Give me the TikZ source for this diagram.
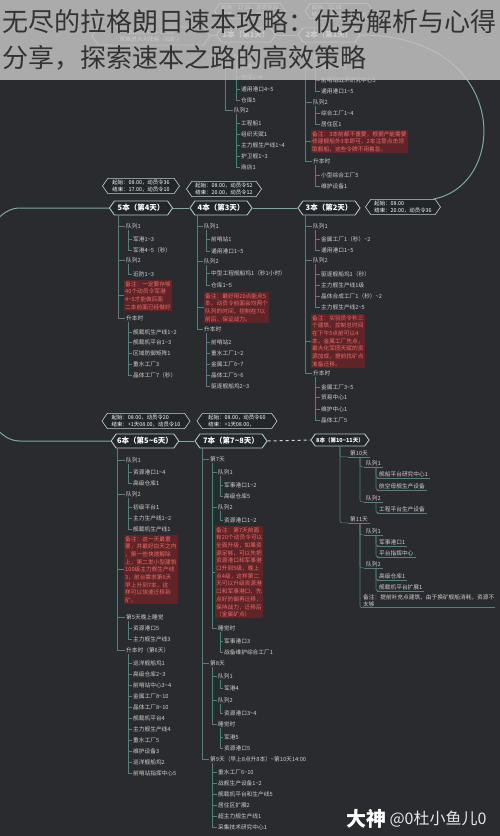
\documentclass[tikz,border=0pt]{standalone}
\usepackage{fontspec}
\setmainfont{Noto Sans CJK SC}
\usetikzlibrary{shapes.symbols, calc, positioning}
\definecolor{bgdark}{HTML}{2A2B2F}
\definecolor{treeline}{HTML}{55807E}
\definecolor{spine}{HTML}{7FA7A5}
\definecolor{hexfill}{HTML}{222629}
\definecolor{hexedge}{HTML}{B8C8C6}
\definecolor{itemtext}{HTML}{D0D0D0}
\definecolor{notefill}{HTML}{5E2428}
\definecolor{notetext}{HTML}{EE6B67}
\definecolor{startedge}{HTML}{C49A6C}
\definecolor{veil}{HTML}{C2C2C2}
\definecolor{titletext}{HTML}{333333}
\newcommand{\tld}{\char"7E\relax}

\begin{document}
\begin{tikzpicture}[x=1pt, y=-1pt,
  hexa/.style={signal, signal to=east and west, signal pointer angle=110, draw=hexedge,
    line width=0.9pt, fill=hexfill, text=white, font=\fontsize{7.5}{9}\selectfont\bfseries,
    inner sep=1pt, minimum height=14pt},
  infobox/.style={signal, signal to=east and west, signal pointer angle=110, draw=hexedge!80,
    line width=0.6pt, fill=hexfill, text=white, font=\fontsize{5.4}{7}\selectfont,
    align=left, inner sep=1.5pt},
  item/.style={anchor=west, text=itemtext, font=\fontsize{5.7}{7}\selectfont, inner sep=1pt},
  note/.style={anchor=north west, fill=notefill, text=notetext,
    font=\fontsize{5.7}{7.7}\selectfont, align=left, inner sep=1pt},
  tree/.style={draw=treeline, line width=0.6pt},
  link/.style={draw=spine, line width=1pt}]
\useasboundingbox (0,0) rectangle (500,836);
\fill[bgdark] (0,0) rectangle (500,836);

% Main nodes
\node[hexa, draw=startedge, font=\fontsize{5.7}{7}\selectfont, align=center, minimum width=118pt, minimum height=18pt] (start) at (151,36) {2022-09-29-17:00\\家族进入大陆座（红矿）};
\node[hexa, minimum width=59pt] (b1) at (246,35) {1本（第1天）};
\node[hexa, minimum width=62pt] (b2) at (329,35) {2本（第1天）};
\node[hexa, minimum width=62pt] (b3) at (329,208) {3本（第2天）};
\node[hexa, minimum width=62pt] (b4) at (221,208) {4本（第3天）};
\node[hexa, minimum width=63pt] (b5) at (141,208) {5本（第4天）};
\node[hexa, minimum width=66pt] (b6) at (145,441) {6本（第5\tld6天）};
\node[hexa, minimum width=72pt] (b7) at (231,441) {7本（第7\tld8天）};
\node[hexa, minimum width=55pt, minimum height=12pt, font=\fontsize{5.5}{7}\selectfont\bfseries] (b8) at (340,440) {8本（第10\tld11天）};

% Info boxes
\node[infobox, minimum width=66pt] (info1) at (250,11) {起始：17.00，动员令36\\结束：20.00，动员令12};
\node[infobox, minimum width=62pt] (info2) at (339,11) {起始：20.00\\结束：24.00，动员令0};
\node[infobox, minimum width=75pt] (info3) at (403,207) {起始：08.00\\结束：20.00，动员令36};
\node[infobox, minimum width=75pt] (info4) at (224,189) {起始：08.00，动员令52\\结束：20.00，动员令12};
\node[infobox, minimum width=77pt] (info5) at (141,186) {起始：08.00，动员令36\\结束：17.00，动员令10};
\node[infobox, minimum width=88pt] (info6) at (146,421) {起始：08.00，动员令20\\结束：+1天08.00，动员令10};
\node[infobox, minimum width=80pt] (info7) at (237,421) {起始：08.00，动员令60\\结束：+1天08.00，};

% Backbone
\draw[link] (start.east) -- (b1.west);
\draw[link] (b1.east) -- (b2.west);
\draw[link] (b2.east) .. controls (510,35) and (510,185) .. ([xshift=30pt]info3.north);
\draw[link] (b3.west) -- (b4.east);
\draw[link] (b4.west) -- (b5.east);
\draw[link] (b5.west) -- (20,208) .. controls (-45,208) and (-45,441) .. (20,441) -- (b6.west);
\draw[link] (b6.east) -- (b7.west);
\draw[link, dashed, draw=hexedge!70] (b7.east) -- (b8.west);

% 1本
\foreach \n/\x/\y/\t in {A1/233/57/队列1, A11/240/66/前哨站1, A12/240/77/仓库1\tld4,
  A13/240/89/通用港口4\tld5, A14/240/100/仓库5, A2/233/110/队列2, A21/240/123/工程船1,
  A22/240/134/组织天赋1, A23/240/145/主力舰生产线1\tld4, A24/240/156/护卫舰1\tld3, A25/240/167/商店1}
  \node[item] (\n) at (\x,\y) {\t};

% 2本
\foreach \n/\x/\y/\t in {B1/312/57/队列1, B11/320/67/综合工厂1（秒）, B12/320/80/前哨站战术研究中心5,
  B13/320/91/通用港口1\tld5, B2/312/102/队列2, B21/320/113/综合工厂1\tld4, B22/320/124/居住区1,
  B4/312/161/升本时, B41/320/175/小型综合工厂5, B42/320/186/维护设备1}
  \node[item] (\n) at (\x,\y) {\t};
\node[note] (B3) at (311,130) {备注：3本前都不重要，根据产能需要\\修建舰船外3本即可，2本注意点击领\\取舰船，这些令牌不用着急。};

% 3本
\foreach \n/\x/\y/\t in {C1/312/226/队列1, C11/320/239/金属工厂1（秒）\tld2, C12/320/250/通用港口1\tld5,
  C2/312/260/队列2, C21/320/274/驱逐舰船坞1（秒）, C22/320/285/主力舰生产线1级,
  C23/320/296/晶体合成工厂1（秒）\tld2, C24/320/307/主力舰生产线2\tld5, C4/312/373/升本时,
  C41/320/387/金属工厂3\tld5, C42/320/397/贸易中心1, C43/320/409/维护中心1, C44/320/420/晶体工厂5}
  \node[item] (\n) at (\x,\y) {\t};
\node[note] (C3) at (311,314) {备注：实验员令秒三\\个建筑，控制总时间\\在下午5点前可以4\\本，金属工厂先点，\\最大化军团天赋的资\\源加成，提前找矿点\\准备迁移。};

% 4本
\foreach \n/\x/\y/\t in {D1/203/226/队列1, D11/210/239/前哨站1, D12/210/251/通用港口1\tld5,
  D2/203/261/队列2, D21/210/273/中型工程舰船坞1（秒1小时）, D22/210/285/仓库1\tld5,
  D4/203/329/升本时, D41/210/342/前哨站2, D42/210/353/重水工厂1\tld2, D43/210/364/金属工厂6\tld7,
  D44/210/375/晶体工厂5\tld6, D45/210/386/驱逐舰船坞2\tld3}
  \node[item] (\n) at (\x,\y) {\t};
\node[note] (D3) at (204,292) {备注：最好用20点能点5\\本，动员令前面会均两个\\队列的时间，控制在7以\\前后，保证战力。};

% 5本
\foreach \n/\x/\y/\t in {E1/125/226/队列1, E11/132/239/军港1\tld3, E12/132/250/军港4\tld5（秒）,
  E2/125/260/队列2, E21/132/274/近防1\tld3, E4/125/318/升本时, E41/132/332/舰载机生产线1\tld2,
  E42/132/342/舰载机平台1\tld3, E43/132/353/区域防御矩阵1, E44/132/364/重水工厂3, E45/132/375/晶体工厂7（秒）}
  \node[item] (\n) at (\x,\y) {\t};
\node[note] (E3) at (124,280) {备注：一定要存够\\40个动员令军港\\4\tld5才能做后面\\二本前面已经做好};

% 6本
\foreach \n/\x/\y/\t in {F1/125/460/队列1, F11/132/472/资源港口1\tld4, F12/132/483/高级仓库1,
  F2/125/494/队列2, F21/132/507/初级平台1, F22/132/518/主力生产线1\tld2, F23/132/529/舰载机生产线1,
  F4/125/617/第5天晚上睡觉, F41/132/628/资源港口5, F42/132/639/主力舰生产线3,
  F5/125/650/升本时（第6天）, F51/132/663/巡洋舰船坞1, F52/132/674/高级仓库2\tld3,
  F53/132/685/前哨站中心3\tld4, F54/132/696/金属工厂8\tld10, F55/132/707/晶体工厂8\tld10,
  F56/132/718/舰载机平台4, F57/132/729/主力舰生产线4, F58/132/740/重水工厂5,
  F59/132/751/维护设备3, F60/132/762/巡洋舰船坞2, F61/132/773/前哨站指挥中心5}
  \node[item] (\n) at (\x,\y) {\t};
\node[note] (F3) at (124,535) {备注：这一天最重\\要，并最好白天之内\\，第一些快速解除\\上，第二发小型建筑\\100级主力舰生产线\\3，前台需求第6天\\早上升到7本，这\\样可以快速迁移到\\矿。};

% 7本
\foreach \n/\x/\y/\t in {G1/209/459/第7天, G11/217/472/队列1, G111/223/485/军事港口1\tld2,
  G112/223/496/高级仓库5, G12/217/507/队列2, G121/223/520/资源港口1\tld2, G14/217/628/睡觉时,
  G141/223/641/军事港口3, G142/223/652/战备维护综合工厂1, G2/209/663/第8天, G21/217/676/队列1,
  G211/223/688/军港4, G22/217/700/队列2, G221/223/713/资源港口3\tld4, G23/217/724/睡觉时,
  G231/223/737/军港5, G232/223/748/资源港口5, G3/209/759/第9天（早上8点升8本）\tld{}第10天14:00,
  G31/217/772/重水工厂6\tld10, G32/217/783/战舰生产设备1\tld2, G33/217/794/舰载机平台和生产线5,
  G34/217/805/居住区扩展2, G35/217/816/超主力舰生产线1, G36/217/827/采集技术研究中心1}
  \node[item] (\n) at (\x,\y) {\t};
\node[note] (G13) at (215,526) {备注：第7天前面\\有20个动员令可以\\全面升级，如果资\\源足够，可以先把\\资源港口和军事港\\口升到5级，晚上\\点4级，这样第二\\天可以升级资源港\\口和军事港口，先\\点好防御再迁移，\\保持战力，迁移后\\（金属矿点）};

% 8本
\foreach \n/\x/\y/\t in {H1/348/453/第10天, H11/364/463/队列1, H111/377/474/舰船平台研究中心1,
  H112/377/486/航空母舰生产设备, H12/364/498/队列2, H121/377/509/工程平台生产设备,
  H2/348/519/第11天, H21/364/531/队列1, H211/377/542/军事港口1, H212/377/553/平台指挥中心,
  H22/364/564/队列2, H221/377/576/高级仓库1, H222/377/587/舰载机平台扩展1}
  \node[item, inner xsep=2pt] (\n) at (\x,\y) {\t};
\node[item, anchor=north west, align=left, text width=130pt, inner xsep=2pt] (H3) at (361,593) {备注：提前补充点建筑，由于换矿舰船消耗，资源不\\太够};

% Tree lines
\foreach \c in {A1,A2} \draw[tree] ([xshift=-21pt]b1.south) |- (\c.west);
\foreach \c in {B1,B2,B3,B4} \draw[tree] ([xshift=-24pt]b2.south) |- (\c.west);
\foreach \c in {C1,C2,C3,C4} \draw[tree] ([xshift=-24pt]b3.south) |- (\c.west);
\foreach \c in {D1,D2,D3,D4} \draw[tree] ([xshift=-24pt]b4.south) |- (\c.west);
\foreach \c in {E1,E2,E3,E4} \draw[tree] ([xshift=-23pt]b5.south) |- (\c.west);
\foreach \c in {F1,F2,F3,F4,F5} \draw[tree] ([xshift=-28pt]b6.south) |- (\c.west);
\foreach \c in {G1,G2,G3} \draw[tree] ([xshift=-29pt]b7.south) |- (\c.west);
\foreach \p/\kids in {A1/{A11,A12,A13,A14}, A2/{A21,A22,A23,A24,A25}, B1/{B11,B12,B13},
  B2/{B21,B22}, B4/{B41,B42}, C1/{C11,C12}, C2/{C21,C22,C23,C24}, C4/{C41,C42,C43,C44},
  D1/{D11,D12}, D2/{D21,D22}, D4/{D41,D42,D43,D44,D45}, E1/{E11,E12}, E2/{E21},
  E4/{E41,E42,E43,E44,E45}, F1/{F11,F12}, F2/{F21,F22,F23}, F4/{F41,F42},
  F5/{F51,F52,F53,F54,F55,F56,F57,F58,F59,F60,F61}, G1/{G11,G12,G13,G14}, G11/{G111,G112},
  G12/{G121}, G14/{G141,G142}, G2/{G21,G22,G23}, G21/{G211}, G22/{G221}, G23/{G231,G232},
  G3/{G31,G32,G33,G34,G35,G36}}
  \foreach \c in \kids \draw[tree] ([xshift=3pt]\p.south west) |- (\c.west);

% 8本 lines, underlined
\foreach \c in {H1,H2} \draw[tree, rounded corners=2pt] (b8.south) |- (\c.south west);
\foreach \p/\kids in {H1/{H11,H12}, H11/{H111,H112}, H12/{H121}, H2/{H21,H22,H3},
  H21/{H211,H212}, H22/{H221,H222}}
  \foreach \c in \kids \draw[tree, rounded corners=2pt] ([xshift=12pt]\p.south west) |- (\c.south west);
\foreach \n in {H1,H11,H111,H112,H12,H121,H2,H21,H211,H212,H22,H221,H222,H3}
  \draw[tree] (\n.south west) -- (\n.south east);

% Title veil
\fill[veil, opacity=0.85] (0,0) rectangle (500,80);
\node[anchor=west, inner sep=0pt, text=titletext, font=\fontsize{26}{26}\selectfont] (title1) at (2,22) {无尽的拉格朗日速本攻略：优势解析与心得};
\node[anchor=west, inner sep=0pt, text=titletext, font=\fontsize{26}{26}\selectfont] (title2) at (2,58) {分享，探索速本之路的高效策略};

% Watermark
\node[anchor=west, inner sep=0pt, text=white, font=\fontsize{20}{20}\selectfont\bfseries] (mark1) at (346,819) {大神};
\node[right=3pt of mark1, inner sep=0pt, text=white!90!black, font=\fontsize{16}{16}\selectfont] (mark2) {@0杜小鱼儿0};
\end{tikzpicture}
\end{document}
